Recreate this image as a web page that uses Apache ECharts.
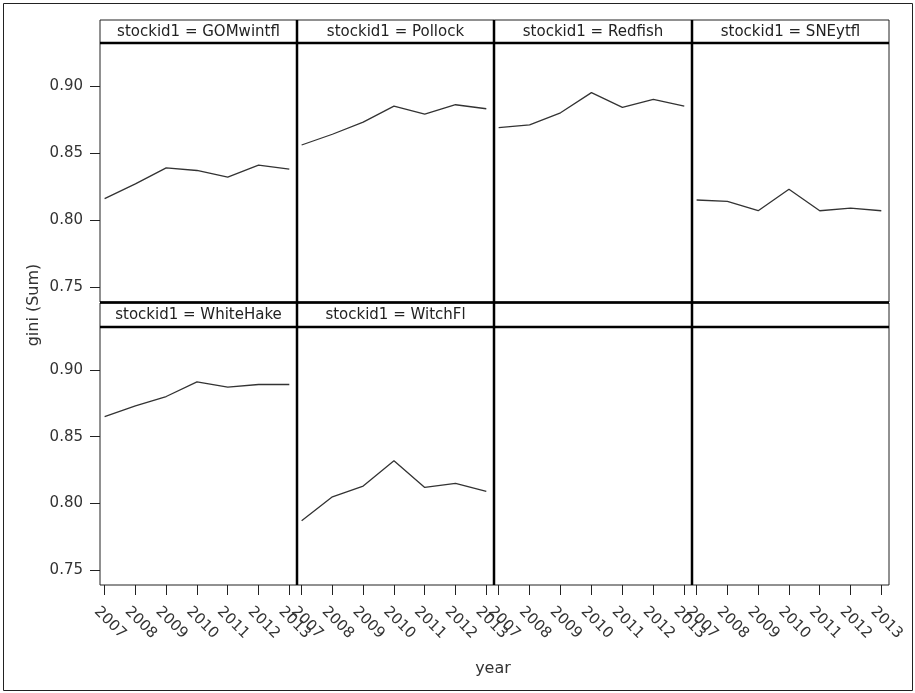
<!DOCTYPE html>
<html>
<head>
<meta charset="utf-8">
<script src="https://cdn.jsdelivr.net/npm/echarts@6/dist/echarts.min.js"></script>
<style>
  html, body { margin: 0; padding: 0; background: #fff; }
  #chart { width: 915px; height: 693px; }
</style>
</head>
<body>
<div id="chart"></div>
<script>
// Gini coefficient (sum) by stock, 2007-2013
const years = [2007, 2008, 2009, 2010, 2011, 2012, 2013];
const yTicks = [0.75, 0.80, 0.85, 0.90];
const stocks = ['GOMwintfl', 'Pollock', 'Redfish', 'SNEytfl', 'WhiteHake', 'WitchFl'];
const giniGOMwintfl = [0.816, 0.827, 0.839, 0.837, 0.832, 0.841, 0.838];
const giniPollock   = [0.856, 0.864, 0.873, 0.885, 0.879, 0.886, 0.883];
const giniRedfish   = [0.869, 0.871, 0.880, 0.895, 0.884, 0.890, 0.885];
const giniSNEytfl   = [0.815, 0.814, 0.807, 0.823, 0.807, 0.809, 0.807];
const giniWhiteHake = [0.865, 0.873, 0.880, 0.891, 0.887, 0.889, 0.889];
const giniWitchFl   = [0.787, 0.805, 0.813, 0.832, 0.812, 0.815, 0.809];
const giniByStock = [giniGOMwintfl, giniPollock, giniRedfish, giniSNEytfl, giniWhiteHake, giniWitchFl];

// Panel layout (pixels)
const FONT = 'DejaVu Sans';
const colX = [100, 297, 494, 692, 889];
const rowTop = [43, 327];
const rowBottom = [302, 585];
const stripTop = [20, 303];
const X_MIN = 2006.85, X_MAX = 2013.25;
const Y_MIN = 0.739, Y_MAX = 0.932;

const grids = [], xAxes = [], yAxes = [], series = [];
for (let r = 0; r < 2; r++) {
  for (let c = 0; c < 4; c++) {
    const i = r * 4 + c;
    grids.push({
      left: colX[c], top: rowTop[r],
      width: colX[c + 1] - colX[c], height: rowBottom[r] - rowTop[r],
      show: true, borderColor: '#222', borderWidth: 1, backgroundColor: '#fff'
    });
    const bottomRow = r === 1;
    xAxes.push({
      type: 'value', gridIndex: i, min: X_MIN, max: X_MAX,
      splitLine: { show: false },
      axisLine: { show: false },
      axisTick: { show: bottomRow, length: 10, lineStyle: { color: '#222', width: 1 }, customValues: years },
      axisLabel: {
        show: bottomRow, customValues: years, rotate: -45,
        align: 'center', verticalAlign: 'bottom', margin: 43,
        fontFamily: FONT, fontSize: 15, color: '#333',
        formatter: v => String(v)
      }
    });
    const leftCol = c === 0;
    yAxes.push({
      type: 'value', gridIndex: i, min: Y_MIN, max: Y_MAX,
      splitLine: { show: false },
      axisLine: { show: false },
      axisTick: { show: leftCol, length: 10, lineStyle: { color: '#222', width: 1 }, customValues: yTicks },
      axisLabel: {
        show: leftCol, customValues: yTicks, margin: 17,
        fontFamily: FONT, fontSize: 15, color: '#333',
        formatter: v => v.toFixed(2)
      }
    });
    if (i < stocks.length) {
      series.push({
        type: 'line', xAxisIndex: i, yAxisIndex: i,
        data: years.map((y, k) => [y, giniByStock[i][k]]),
        symbol: 'none', silent: true,
        lineStyle: { color: '#333', width: 1.3 }
      });
    }
  }
}

// Strip headers, separators, frame and axis titles
const graphic = [];
graphic.push({ type: 'rect', shape: { x: 3.5, y: 3.5, width: 909, height: 687 }, style: { fill: 'none', stroke: '#222', lineWidth: 1 }, z: 0 });
for (let r = 0; r < 2; r++) {
  graphic.push({ type: 'rect', shape: { x: colX[0], y: stripTop[r], width: colX[4] - colX[0], height: rowTop[r] - stripTop[r] },
    style: { fill: '#fff', stroke: '#222', lineWidth: 1 }, z: 10 });
  for (let c = 0; c < 4; c++) {
    const i = r * 4 + c;
    if (i < stocks.length) {
      graphic.push({ type: 'text', x: (colX[c] + colX[c + 1]) / 2, y: (stripTop[r] + rowTop[r]) / 2 + 0.5,
        style: { text: 'stockid1 = ' + stocks[i], font: '15px "' + FONT + '"', fill: '#222', align: 'center', verticalAlign: 'middle' }, z: 12 });
    }
  }
  graphic.push({ type: 'line', shape: { x1: colX[0], y1: rowTop[r], x2: colX[4], y2: rowTop[r] }, style: { stroke: '#000', lineWidth: 2.5 }, z: 20 });
}
graphic.push({ type: 'line', shape: { x1: colX[0], y1: 302.5, x2: colX[4], y2: 302.5 }, style: { stroke: '#000', lineWidth: 2.5 }, z: 20 });
for (let c = 1; c < 4; c++) {
  graphic.push({ type: 'line', shape: { x1: colX[c], y1: stripTop[0], x2: colX[c], y2: rowBottom[1] }, style: { stroke: '#000', lineWidth: 2.5 }, z: 20 });
}
graphic.push({ type: 'text', x: 34, y: 305, rotation: Math.PI / 2,
  style: { text: 'gini (Sum)', font: '16px "' + FONT + '"', fill: '#333', align: 'center', verticalAlign: 'middle' }, z: 12 });
graphic.push({ type: 'text', x: 493, y: 669,
  style: { text: 'year', font: '16px "' + FONT + '"', fill: '#333', align: 'center', verticalAlign: 'middle' }, z: 12 });

const chart = echarts.init(document.getElementById('chart'), null, { renderer: 'canvas' });
chart.setOption({
  animation: false,
  backgroundColor: '#fff',
  grid: grids, xAxis: xAxes, yAxis: yAxes, series: series, graphic: graphic
});
</script>
</body>
</html>
